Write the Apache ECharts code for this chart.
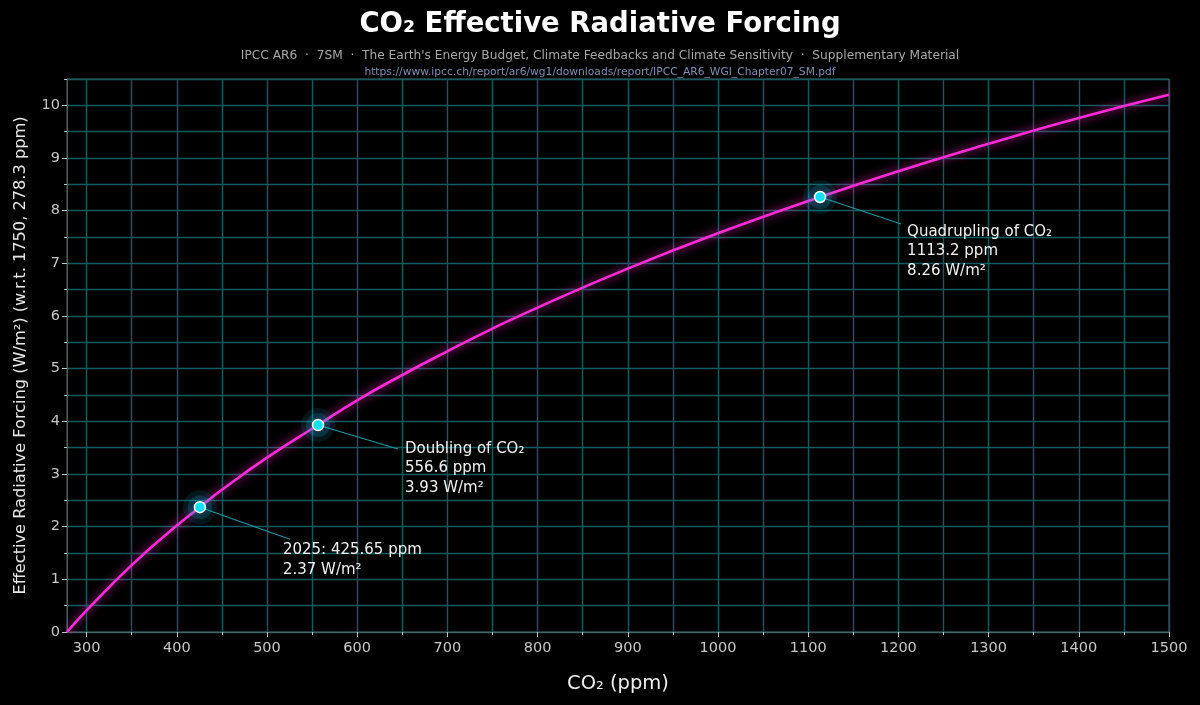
<!DOCTYPE html>
<html>
<head>
<meta charset="utf-8">
<script src="https://cdn.jsdelivr.net/npm/echarts@6/dist/echarts.min.js"></script>
<style>
  html, body { margin: 0; padding: 0; background: #000; }
  #chart { width: 1200px; height: 705px; }
</style>
</head>
<body>
<div id="chart"></div>
<script>
// curve: CO2 (ppm) -> ERF (W/m2)
var co2Ppm = [278.3, 300, 350, 400, 425.65, 450, 500, 556.6, 600, 650, 700, 750,
  800, 900, 1000, 1113.2, 1200, 1300, 1400, 1500];
var erfWm2 = [0, 0.41, 1.27, 2.02, 2.37, 2.70, 3.31, 3.93, 4.40, 4.88, 5.33, 5.76,
  6.16, 6.90, 7.57, 8.26, 8.75, 9.27, 9.76, 10.20];

// highlighted points
var annoX = [425.65, 556.6, 1113.2];
var annoY = [2.37, 3.93, 8.26];
var annoText = [
  '2025: 425.65 ppm\n2.37 W/m²',
  'Doubling of CO₂\n556.6 ppm\n3.93 W/m²',
  'Quadrupling of CO₂\n1113.2 ppm\n8.26 W/m²'
];

// ticks
var xMajorTicks = [300, 400, 500, 600, 700, 800, 900, 1000, 1100, 1200, 1300, 1400, 1500];
var xMinorTicks = [300, 350, 400, 450, 500, 550, 600, 650, 700, 750, 800, 850, 900, 950,
  1000, 1050, 1100, 1150, 1200, 1250, 1300, 1350, 1400, 1450, 1500];
var yMajorTicks = [0, 1, 2, 3, 4, 5, 6, 7, 8, 9, 10];
var yMinorTicks = [0, 0.5, 1, 1.5, 2, 2.5, 3, 3.5, 4, 4.5, 5, 5.5, 6, 6.5, 7, 7.5, 8, 8.5,
  9, 9.5, 10, 10.5];

// pixel offsets of leader line end / text start, per annotation
var lineEnd = [[90, 32], [80, 24], [81, 27]];
var textAt = [[83, 43], [87, 24], [87, 35]];

var font = 'DejaVu Sans';
var gridColor = '#145a5e';
var frameColor = '#4f6262';
var tickColor = '#b8c8c8';

var curve = co2Ppm.map(function (c, i) { return [c, erfWm2[i]]; });
var annoData = annoX.map(function (x, i) { return [x, annoY[i], i]; });

var chart = echarts.init(document.getElementById('chart'));

var option = {
  backgroundColor: '#000',
  animation: false,
  textStyle: { fontFamily: font },
  title: [{
    text: 'CO₂ Effective Radiative Forcing',
    left: 'center', top: 6,
    textStyle: { color: '#fff', fontSize: 27.5, fontWeight: 'bold', fontFamily: font }
  }, {
    text: "IPCC AR6  ·  7SM  ·  The Earth's Energy Budget, Climate Feedbacks and Climate Sensitivity  ·  Supplementary Material",
    left: 'center', top: 45,
    textStyle: { color: '#a8a8a8', fontSize: 12.2, fontWeight: 'normal', fontFamily: font }
  }, {
    text: 'https://www.ipcc.ch/report/ar6/wg1/downloads/report/IPCC_AR6_WGI_Chapter07_SM.pdf',
    left: 'center', top: 62,
    textStyle: { color: '#7d8fb3', fontSize: 10.7, fontWeight: 'normal', fontFamily: font }
  }],
  grid: {
    left: 67, right: 31, top: 79, bottom: 73,
    show: true, borderColor: frameColor, borderWidth: 1, backgroundColor: 'transparent'
  },
  xAxis: [{
    type: 'value', min: 278.3, max: 1500,
    axisLine: { show: true, lineStyle: { color: frameColor } },
    axisTick: { show: true, length: 3, customValues: xMinorTicks, lineStyle: { color: tickColor } },
    axisLabel: { show: false },
    splitLine: { show: true, lineStyle: { color: gridColor, width: 1.4 } }
  }, {
    type: 'value', min: 278.3, max: 1500, position: 'bottom',
    axisLine: { show: false },
    axisTick: { show: true, length: 5, customValues: xMajorTicks, lineStyle: { color: tickColor } },
    axisLabel: {
      customValues: xMajorTicks, color: '#c8c8c8', fontSize: 14.5, margin: 9, fontFamily: font,
      formatter: function (v) { return String(v); }
    },
    splitLine: { show: false },
    name: 'CO₂ (ppm)', nameLocation: 'middle', nameGap: 42,
    nameTextStyle: { color: '#eee', fontSize: 19.5, fontFamily: font }
  }],
  yAxis: [{
    type: 'value', min: 0, max: 10.5,
    axisLine: { show: true, lineStyle: { color: frameColor } },
    axisTick: { show: true, length: 3, customValues: yMinorTicks, lineStyle: { color: tickColor } },
    axisLabel: { show: false },
    splitLine: { show: true, lineStyle: { color: gridColor, width: 1.4 } }
  }, {
    type: 'value', min: 0, max: 10.5, position: 'left',
    axisLine: { show: false },
    axisTick: { show: true, length: 5, customValues: yMajorTicks, lineStyle: { color: tickColor } },
    axisLabel: { customValues: yMajorTicks, color: '#c8c8c8', fontSize: 14.5, margin: 7, fontFamily: font },
    splitLine: { show: false },
    name: 'Effective Radiative Forcing (W/m²) (w.r.t. 1750, 278.3 ppm)',
    nameLocation: 'middle', nameGap: 38,
    nameTextStyle: { color: '#e6e6e6', fontSize: 16.2, fontFamily: font }
  }],
  series: [{
    type: 'line',
    data: curve,
    smooth: true,
    showSymbol: false,
    lineStyle: {
      color: '#ff2bd6', width: 2.6,
      shadowBlur: 10, shadowColor: 'rgba(255, 40, 210, 0.9)'
    },
    z: 3
  }, {
    type: 'custom',
    data: annoData,
    z: 5,
    renderItem: function (params, api) {
      var i = api.value(2);
      var p = api.coord([api.value(0), api.value(1)]);
      var le = lineEnd[i], ta = textAt[i];
      return {
        type: 'group',
        children: [{
          type: 'line',
          shape: { x1: p[0], y1: p[1], x2: p[0] + le[0], y2: p[1] + le[1] },
          style: { stroke: '#1d9aa3', lineWidth: 1.1 }
        }, {
          type: 'circle',
          shape: { cx: p[0], cy: p[1], r: 17 },
          style: { fill: 'rgba(0, 200, 230, 0.11)' }
        }, {
          type: 'circle',
          shape: { cx: p[0], cy: p[1], r: 12 },
          style: { fill: 'rgba(0, 200, 230, 0.17)' }
        }, {
          type: 'circle',
          shape: { cx: p[0], cy: p[1], r: 5.5 },
          style: { fill: '#12e0f5', stroke: '#ffffff', lineWidth: 1.5 }
        }, {
          type: 'text',
          x: p[0] + ta[0], y: p[1] + ta[1] - 9.75,
          style: {
            text: annoText[i],
            fill: '#f2f2f2', font: '15px "DejaVu Sans"',
            lineHeight: 19.5, verticalAlign: 'top', align: 'left'
          }
        }]
      };
    }
  }]
};

chart.setOption(option);
</script>
</body>
</html>
